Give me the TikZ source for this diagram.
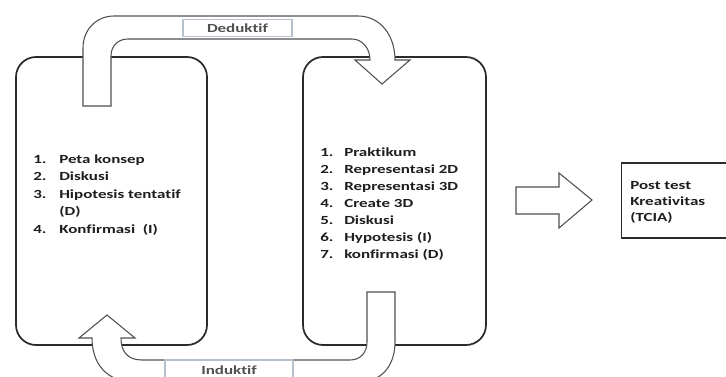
\documentclass[tikz,border=0pt]{standalone}
\usepackage{fontspec}
\setmainfont{Carlito}[FakeStretch=1.37,Ligatures={NoCommon}]
\usepackage{tikz}

\definecolor{boxline}{HTML}{2B2B2B}
\definecolor{arrline}{HTML}{505050}
\definecolor{tagline}{HTML}{B4C0CC}
\definecolor{txt}{HTML}{1E1E1E}

\begin{document}
\begin{tikzpicture}[x=0.75pt,y=-0.75pt,font=\fontsize{9.3}{12}\selectfont\bfseries,
  panel/.style={draw=boxline,line width=1.3pt,rounded corners=15pt,inner sep=0pt},
  blockarrow/.style={draw=arrline,line width=0.8pt,fill=white,line join=miter},
  tag/.style={draw=tagline,line width=0.8pt,fill=white,inner sep=0pt},
  lst/.style={anchor=base west,inner sep=0pt,text=txt}]
\clip (0,0) rectangle (726,376);
\fill[white] (0,0) rectangle (726,376);
\node[panel,minimum width=143.25pt,minimum height=216pt] (lbox) at (111.5,201) {};
\node[panel,minimum width=137.25pt,minimum height=216pt] (rbox) at (394.5,201) {};
\node[draw=boxline,line width=1.1pt,inner sep=0pt,minimum width=86pt,minimum height=56.25pt] (post) at (679,200.5) {};
\draw[blockarrow] (83,106) -- (83,48) .. controls (83,30) and (96,16) .. (114,16) -- (358,16)
  .. controls (380,16) and (395,35) .. (395,60) -- (410,60) -- (382,84) -- (355,60) -- (370,60)
  .. controls (370,48) and (362,39) .. (352,39) -- (128,39) .. controls (118,39) and (111,46) .. (111,56)
  -- (111,106) -- cycle;
\draw[blockarrow] (367,292) -- (395,292) -- (395,342) .. controls (395,362) and (385,382) .. (358,382)
  -- (135,382) .. controls (105,382) and (92,362) .. (92,338) -- (79,338) -- (107,315) -- (135,338)
  -- (121,338) .. controls (121,352) and (128,360) .. (142,360) -- (350,360)
  .. controls (360,360) and (367,353) .. (367,342) -- cycle;
\draw[blockarrow] (516,187) -- (559,187) -- (559,173) -- (592,200) -- (559,228) -- (559,214) -- (516,214) -- cycle;
\node[tag,minimum width=81.75pt,minimum height=12.75pt,text=arrline] (ded) at (237.5,28) {Deduktif};
\node[tag,minimum width=96pt,minimum height=24pt,text=arrline,text depth=9pt] (ind) at (229,376) {Induktif};
\node[lst] (l1) at (33,163) {1.};
\node[lst] (lt1) at (59,163) {Peta konsep};
\node[lst] (l2) at (33,180.5) {2.};
\node[lst] (lt2) at (59,180.5) {Diskusi};
\node[lst] (l3) at (33,198) {3.};
\node[lst] (lt3) at (59,198) {Hipotesis tentatif};
\node[lst] (lt3b) at (59,215.5) {(D)};
\node[lst] (l4) at (33,233) {4.};
\node[lst] (lt4) at (59,233) {Konfirmasi~ (I)};
\foreach \t [count=\i] in {Praktikum,Representasi 2D,Representasi 3D,Create 3D,Diskusi,Hypotesis (I),konfirmasi (D)} {
  \node[lst] (r\i) at (320,{156+17*(\i-1)}) {\i.};
  \node[lst] (rt\i) at (344,{156+17*(\i-1)}) {\t};
}
\node[lst] (p1) at (630,189) {Post test};
\node[lst] (p2) at (630,205) {Kreativitas};
\node[lst] (p3) at (630,221) {(TCIA)};
\end{tikzpicture}
\end{document}
